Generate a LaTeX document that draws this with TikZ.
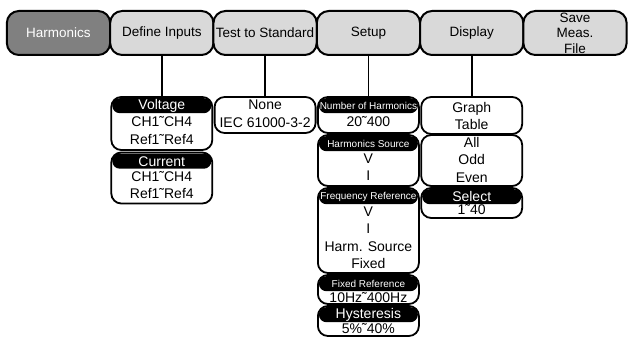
\documentclass[tikz,border=0pt]{standalone}
\usepackage{fontspec}
\setmainfont{Liberation Sans}
\usetikzlibrary{positioning}
\definecolor{gfondo}{gray}{0.85}
\definecolor{gactivo}{gray}{0.50}

\begin{document}
\begin{tikzpicture}[x=1pt, y=-1pt,
    menu/.style={draw=black, line width=2pt, rounded corners=12pt, fill=gfondo, minimum width=103.3pt,
      minimum height=44pt, outer sep=0pt, inner sep=1pt, align=center, font=\fontsize{13.5}{15.5}\selectfont},
    caja/.style={draw=black, line width=1.8pt, rounded corners=10pt, fill=white, minimum width=101pt,
      outer sep=0pt, inner sep=0pt},
    cab/.style={fill=black, text=white, rounded corners=7.5pt, minimum width=99pt, minimum height=15pt,
      inner sep=0pt, anchor=north, yshift=-1pt, font=\fontsize{14}{15}\selectfont},
    cabch/.style={cab, font=\fontsize{10}{11}\selectfont},
    texto/.style={anchor=north, inner sep=0pt, align=center, font=\fontsize{14}{17.5}\selectfont},
    linea/.style={line width=1.8pt}]
  \useasboundingbox (0,0) rectangle (629,339);

  % barra de menu
  \node[menu, fill=gactivo, text=white] (harm) at (58.5,33) {Harmonics};
  \node[menu, right=0pt of harm] (inputs) {Define Inputs};
  \node[menu, right=0pt of inputs] (std) {Test to Standard};
  \node[menu, right=0pt of std] (setup) {Setup};
  \node[menu, right=0pt of setup] (disp) {Display};
  \node[menu, right=0pt of disp] (save) {Save\\Meas.\\File};

  % Define Inputs
  \node[caja, minimum height=53pt, below=42pt of inputs] (volt) {};
  \node[cab] (volth) at (volt.north) {Voltage};
  \node[texto, below=3pt of volth] (voltt) {CH1˜CH4\\Ref1˜Ref4};
  \node[caja, minimum height=51pt, below=2.5pt of volt] (curr) {};
  \node[cab] (currh) at (curr.north) {Current};
  \node[texto, below=2pt of currh] (currt) {CH1˜CH4\\Ref1˜Ref4};

  % Test to Standard
  \node[caja, minimum height=36pt, below=42pt of std] (norma) {};
  \node[texto, below=3pt of norma.north] (normat) {None\\IEC 61000-3-2};

  % Setup
  \node[caja, minimum height=36pt, below=42pt of setup] (nharm) {};
  \node[cabch] (nharmh) at (nharm.north) {Number of Harmonics};
  \node[texto, below=3pt of nharmh] (nharmt) {20˜400};
  \node[caja, minimum height=51pt, below=2pt of nharm] (hsrc) {};
  \node[cabch] (hsrch) at (hsrc.north) {Harmonics Source};
  \node[texto, below=2pt of hsrch] (hsrct) {V\\I};
  \node[caja, minimum height=85pt, below=2pt of hsrc] (fref) {};
  \node[cabch] (frefh) at (fref.north) {Frequency Reference};
  \node[texto, below=2pt of frefh] (freft) {V\\I\\Harm. Source\\Fixed};
  \node[caja, minimum height=29pt, below=2pt of fref] (fixref) {};
  \node[cabch] (fixrefh) at (fixref.north) {Fixed Reference};
  \node[texto, below=1pt of fixrefh] (fixreft) {10Hz˜400Hz};
  \node[caja, minimum height=30pt, below=2pt of fixref] (hyst) {};
  \node[cab] (hysth) at (hyst.north) {Hysteresis};
  \node[texto, below=1pt of hysth] (hystt) {5\%˜40\%};

  % Display
  \node[caja, minimum height=37pt, below=42pt of disp] (graf) {};
  \node[texto, below=5pt of graf.north] (graft) {Graph\\Table};
  \node[caja, minimum height=51pt, below=1pt of graf] (arm) {};
  \node[texto, below=2pt of arm.north] (armt) {All\\Odd\\Even};
  \node[caja, minimum height=30pt, below=2pt of arm] (sel) {};
  \node[cab] (selh) at (sel.north) {Select};
  \node[texto, below=0pt of selh] (selt) {1˜40};

  \draw[linea] (inputs) -- (volt);
  \draw[linea] (std) -- (norma);
  \draw[linea] (setup) -- (nharm);
  \draw[linea] (disp) -- (graf);
\end{tikzpicture}
\end{document}
